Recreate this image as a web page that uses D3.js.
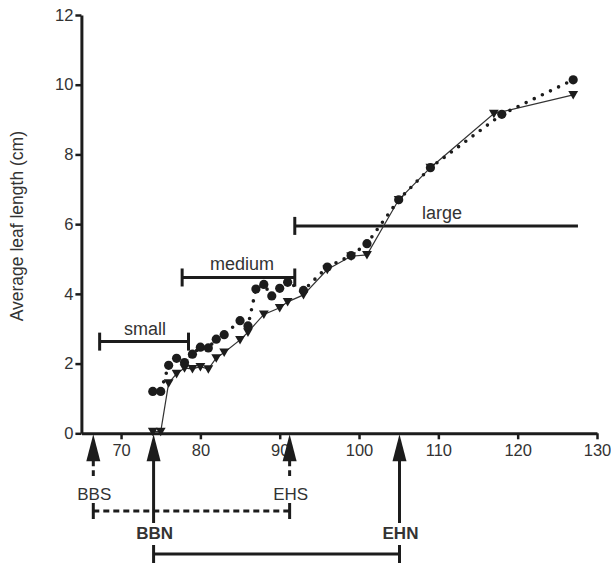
<!DOCTYPE html>
<html>
<head>
<meta charset="utf-8">
<script src="https://cdn.jsdelivr.net/npm/d3@7"></script>
<style>
  html, body { margin: 0; padding: 0; background: #fff; }
  svg { display: block; font-family: "Liberation Sans", Arial, Helvetica, sans-serif; }
</style>
</head>
<body>
<svg id="chart" width="611" height="567"></svg>
<script>
// ---- data ----
const circleDays   = [74, 75, 76, 77, 78, 79, 80, 81, 82, 83, 85, 86, 87, 88, 89, 90, 91, 93, 96, 99, 101, 105, 109, 118, 127];
const circleLength = [1.2, 1.2, 1.95, 2.15, 2.03, 2.27, 2.47, 2.45, 2.7, 2.83, 3.23, 3.08, 4.14, 4.27, 3.94, 4.16, 4.33, 4.1, 4.77, 5.1, 5.44, 6.7, 7.62, 9.15, 10.14];

const triangleDays   = [74, 75, 76, 77, 78, 79, 80, 81, 82, 83, 85, 86, 88, 90, 91, 93, 96, 99, 101, 105, 109, 117, 127];
const triangleLength = [0.05, 0.05, 1.44, 1.71, 1.87, 1.85, 1.91, 1.84, 2.16, 2.32, 2.68, 2.9, 3.41, 3.6, 3.77, 3.97, 4.7, 5.08, 5.12, 6.7, 7.62, 9.17, 9.71];

const rangeNames  = ["small", "medium", "large"];
const rangeStart  = [67.3, 77.7, 91.9];
const rangeEnd    = [78.5, 91.9, 127.6];
const rangeLevel  = [2.63, 4.47, 5.95];
const rangeEndCap = [true, true, false];

const stageNames  = ["BBS", "BBN", "EHS", "EHN"];
const stageDays   = [66.5, 74.1, 91.25, 105.1];
const stageSolid  = [false, true, false, true];

const xTicks = [70, 80, 90, 100, 110, 120, 130];
const yTicks = [0, 2, 4, 6, 8, 10, 12];
const yTitle = "Average leaf length (cm)";

// ---- layout ----
const svg = d3.select("#chart");
const ink = "#1c1c1c";
const x = d3.scaleLinear().domain([65, 130]).range([81.4, 597]);
const y = d3.scaleLinear().domain([0, 12]).range([433.3, 15]);

// axes
const gy = svg.append("g").attr("transform", `translate(${x(65)},0)`)
  .call(d3.axisLeft(y).tickValues(yTicks).tickSize(6).tickSizeOuter(0).tickPadding(2));
const gx = svg.append("g").attr("transform", `translate(0,${y(0)})`)
  .call(d3.axisBottom(x).tickValues(xTicks).tickSize(6).tickSizeOuter(0).tickPadding(5));
[gx, gy].forEach(g => {
  g.select(".domain").attr("stroke", ink).attr("stroke-width", 3);
  g.selectAll(".tick line").attr("stroke", ink).attr("stroke-width", 2.5);
  g.selectAll(".tick text").attr("fill", "#333").style("font-size", "16.5px")
    .style("font-family", "'Liberation Sans', Arial, sans-serif");
});

svg.append("text")
  .attr("transform", `translate(23,${(y(0) + y(12)) / 2 + 2}) rotate(-90)`)
  .attr("text-anchor", "middle")
  .attr("fill", "#333")
  .style("font-size", "17.5px")
  .text(yTitle);

// range bars
rangeNames.forEach((name, i) => {
  const g = svg.append("g");
  const yy = y(rangeLevel[i]);
  g.append("line").attr("x1", x(rangeStart[i])).attr("x2", x(rangeEnd[i]))
    .attr("y1", yy).attr("y2", yy).attr("stroke", ink).attr("stroke-width", 3);
  g.append("line").attr("x1", x(rangeStart[i])).attr("x2", x(rangeStart[i]))
    .attr("y1", yy - 9).attr("y2", yy + 9).attr("stroke", ink).attr("stroke-width", 3);
  if (rangeEndCap[i]) {
    g.append("line").attr("x1", x(rangeEnd[i])).attr("x2", x(rangeEnd[i]))
      .attr("y1", yy - 9).attr("y2", yy + 9).attr("stroke", ink).attr("stroke-width", 3);
  }
});
const labelX = [(x(rangeStart[0]) + x(rangeEnd[0])) / 2 + 1, 242, 442];
rangeNames.forEach((name, i) => {
  svg.append("text").attr("x", labelX[i]).attr("y", y(rangeLevel[i]) - 7)
    .attr("text-anchor", "middle").attr("fill", "#333").style("font-size", "18px").text(name);
});

// series lines
const circlePts = circleDays.map((d, i) => [d, circleLength[i]]);
const triPts = triangleDays.map((d, i) => [d, triangleLength[i]]);
const line = d3.line().x(d => x(d[0])).y(d => y(d[1]));

svg.append("path").attr("d", line(triPts)).attr("fill", "none")
  .attr("stroke", "#333").attr("stroke-width", 1.2);
svg.append("path").attr("d", line(circlePts)).attr("fill", "none")
  .attr("stroke", ink).attr("stroke-width", 3.6).attr("stroke-linecap", "round")
  .attr("stroke-dasharray", "0,9");

// markers
svg.append("g").selectAll("path").data(triPts).join("path")
  .attr("d", d3.symbol(d3.symbolTriangle, 42))
  .attr("transform", d => `translate(${x(d[0])},${y(d[1]) - 1}) rotate(180)`)
  .attr("fill", ink);
svg.append("g").selectAll("circle").data(circlePts).join("circle")
  .attr("cx", d => x(d[0])).attr("cy", d => y(d[1])).attr("r", 4.6)
  .attr("fill", ink);

// stage arrows
const tipY = y(0) + 1;
stageNames.forEach((name, i) => {
  const cx = x(stageDays[i]);
  const g = svg.append("g");
  g.append("path").attr("d", `M${cx},${tipY} L${cx - 7},${tipY + 27} L${cx + 7},${tipY + 27} Z`).attr("fill", ink);
  const shaftEnd = stageSolid[i] ? 523 : 476;
  g.append("line").attr("x1", cx).attr("x2", cx).attr("y1", tipY + 26).attr("y2", shaftEnd)
    .attr("stroke", ink).attr("stroke-width", 3)
    .attr("stroke-dasharray", stageSolid[i] ? null : "6,4");
  g.append("text").attr("x", cx + 1).attr("y", stageSolid[i] ? 539 : 500)
    .attr("text-anchor", "middle").attr("fill", "#333")
    .style("font-size", "17px").style("font-weight", stageSolid[i] ? "bold" : "normal")
    .text(name);
});

// stage spans
function span(a, b, yy, dashed, h) {
  const x1 = x(stageDays[a]), x2 = x(stageDays[b]);
  svg.append("line").attr("x1", x1).attr("x2", x2).attr("y1", yy).attr("y2", yy)
    .attr("stroke", ink).attr("stroke-width", 3).attr("stroke-dasharray", dashed ? "6,4" : null);
  [x1, x2].forEach(xx => svg.append("line").attr("x1", xx).attr("x2", xx)
    .attr("y1", yy - h).attr("y2", yy + h).attr("stroke", ink).attr("stroke-width", 3));
}
span(0, 2, 511, true, 8);
span(1, 3, 554, false, 9);
</script>
</body>
</html>
